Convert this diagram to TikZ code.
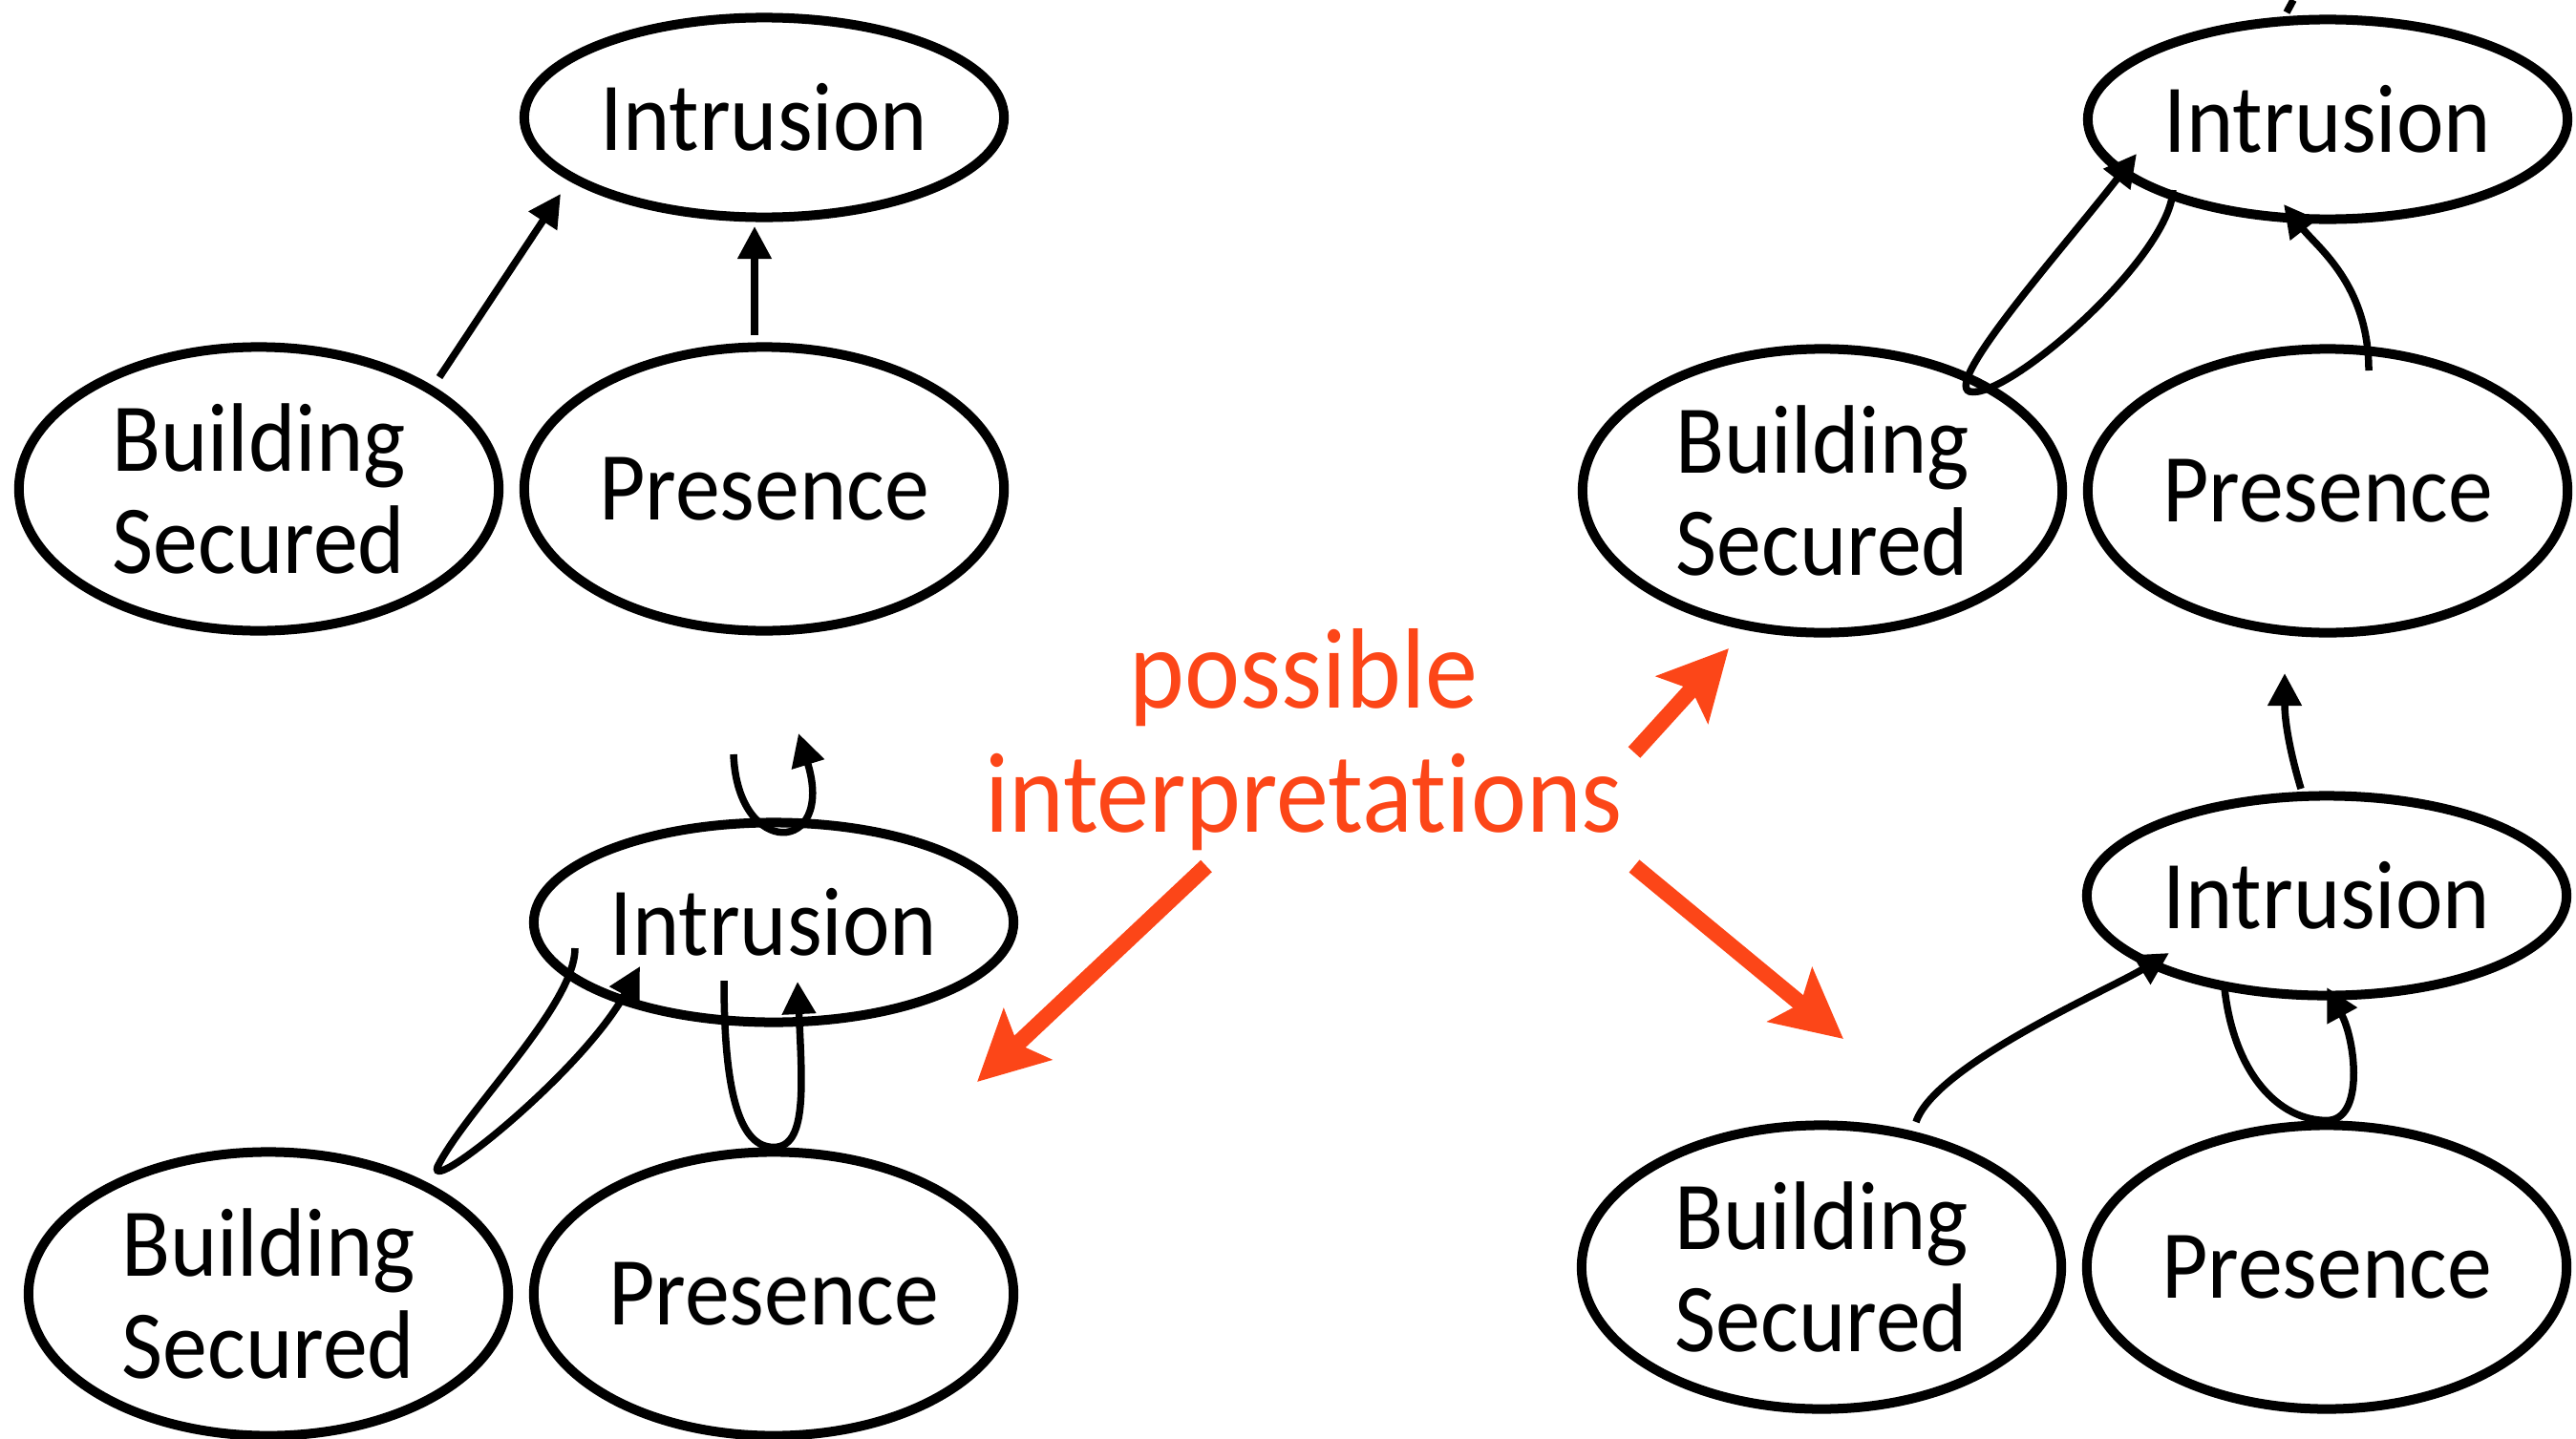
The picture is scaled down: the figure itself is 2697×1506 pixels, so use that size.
\documentclass[tikz,border=0pt]{standalone}
\usepackage{fontspec}
\setmainfont{Carlito}[FakeStretch=0.92, Ligatures=NoCommon]
\usepackage{tikz}
\usetikzlibrary{arrows.meta, shapes.geometric, calc, positioning}
\usepackage{xcolor}
\definecolor{interpred}{RGB}{252,70,24}

\tikzset{
  varnode/.style={ellipse, draw, line width=0.1cm, inner sep=0pt, minimum width=5.02cm, align=center, font=\fontsize{29}{30.5}\selectfont},
  intr/.style={varnode, minimum height=2.09cm},
  cause/.style={varnode, minimum height=2.97cm},
  link/.style={line width=0.075cm, -{Triangle[length=0.34cm, width=0.34cm]}},
  interp/.style={interpred, line width=0.17cm, -{Stealth[length=0.72cm, width=0.72cm, inset=0.14cm]}}
}

\begin{document}
\begin{tikzpicture}[x=0.01cm, y=-0.01cm]
  \useasboundingbox (0,0) rectangle (2697,1506);

  % the four networks
  \foreach \g/\x/\y in {A/800/123, B/810/966, C/2437/125, D/2436/938} {
      \node[intr] (i\g) at (\x,\y) {Intrusion};
      \node[cause] (b\g) at ($(i\g)+(-529,389)$) {Building\\Secured};
      \node[cause] (p\g) at ($(i\g)+(0,389)$) {Presence};
    }

  % label and red arrows
  \node[interpred, align=center, inner sep=0pt, font=\fontsize{34}{37}\selectfont] (label) at (1365,775) {possible\\interpretat\kern0pt ions};
  \coordinate (toB) at (1023,1133);
  \coordinate (toC) at (1810,679);
  \coordinate (toD) at (1930,1088);
  \draw[interp] ($(label)+(-102,132)$) -- (toB);
  \draw[interp] ($(label)+(346,13)$) -- (toC);
  \draw[interp] ($(label)+(346,132)$) -- (toD);

  % network A
  \draw[link] ($(bA)+(189,-117)$) -- ($(iA)+(-213,80)$);
  \draw[link] ($(pA)+(-10,-161)$) -- ($(iA)+(-10,114)$);

  % network B
  \draw[link] ($(iB)+(-42,-176)$) .. controls +(4,110) and +(39,127) .. ($(iB)+(26,-198)$);
  \draw[link] ($(iB)+(-208,27)$) .. controls +(0,60) and +(30,-60) .. ($(bB)+(177,-133)$) .. controls +(-10,30) and +(-60,110) .. ($(iB)+(-140,46)$);
  \draw[link] ($(iB)+(-52,61)$) .. controls +(0,120) and +(-35,0) .. (pB.north) .. controls +(35,0) and +(5,110) .. ($(iB)+(25,62)$);

  % network C
  \draw[line width=0.075cm] ($(iC)+(-43,-112)$) -- ++(7,-13);
  \draw[link] ($(iC)+(-162,74)$) .. controls +(-3,71) and +(38,10) .. ($(bC)+(154,-104)$) .. controls +(-27,-10) and +(-77,99) .. ($(iC)+(-200,36)$);
  \draw[link] ($(pC)+(43,-126)$) .. controls +(0,-90) and +(35,45) .. ($(iC)+(-46,89)$);

  % network D
  \coordinate (upD) at ($(iD)+(-44,-233)$);
  \draw[link] ($(iD)+(-27,-112)$) .. controls +(-12,-40) and +(0,50) .. (upD);
  \draw[link] ($(bD)+(99,-152)$) .. controls +(20,-60) and +(-62,38) .. ($(iD)+(-165,60)$);
  \draw[link] ($(iD)+(-107,97)$) .. controls +(10,90) and +(-50,0) .. (pD.north) .. controls +(40,0) and +(30,55) .. ($(iD)+(0,96)$);
\end{tikzpicture}
\end{document}
